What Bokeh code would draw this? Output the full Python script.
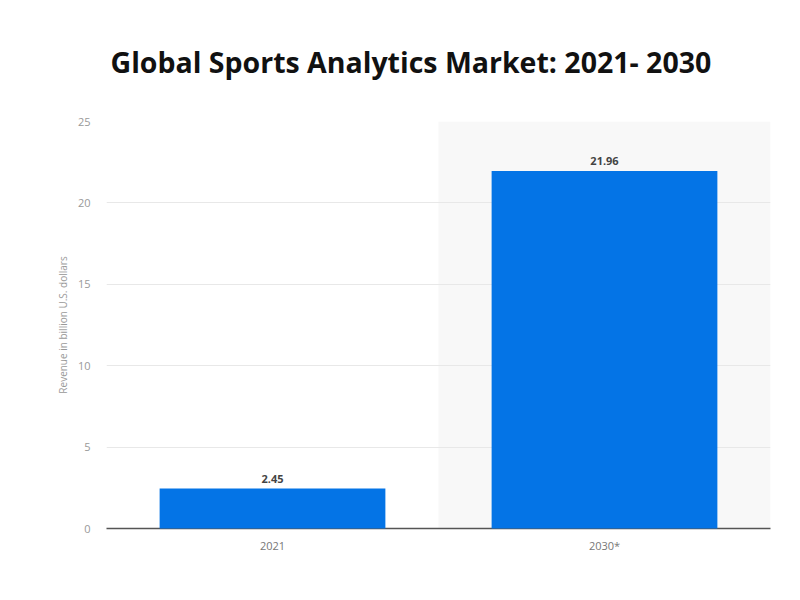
from bokeh.plotting import figure
from bokeh.models import ColumnDataSource, LabelSet, Range1d, FixedTicker
from bokeh.core.properties import value
from bokeh.embed import file_html
from bokeh.resources import INLINE

years = ["2021", "2030*"]
revenue = [2.45, 21.96]
labels = ["2.45", "21.96"]
shade_cats = ["2030*"]
y_ticks = [0, 5, 10, 15, 20, 25]
y_max = 25

src = ColumnDataSource(dict(x=years, top=revenue, label=labels))

p = figure(x_range=years, y_range=Range1d(0, y_max), width=784, height=584,
           output_backend="svg", toolbar_location=None,
           title="Global Sports Analytics Market: 2021- 2030",
           min_border_left=106, min_border_right=14, min_border_top=121, min_border_bottom=56)
p.outline_line_color = None
p.background_fill_color = "white"
p.border_fill_color = "white"

p.title.align = "left"
p.title.offset = 4
p.title.text_font = "Open Sans"
p.title.text_font_style = "bold"
p.title.text_font_size = "28.5px"
p.title.text_color = "#111111"
p.title.standoff = 81

# shaded forecast column
shade = p.vbar(x=shade_cats, top=[y_max], width=1.0, fill_color="#f8f8f8", line_color=None)
shade.level = "underlay"

p.ygrid.level = "glyph"
p.ygrid.grid_line_color = "#e8e8e8"
p.ygrid.grid_line_width = 1
p.xgrid.grid_line_color = None

bars = p.vbar(x="x", top="top", width=0.68, source=src, fill_color="#0474e6", line_color=None)
bars.level = "annotation"

p.add_layout(LabelSet(x="x", y="top", text="label", source=src, text_align="center",
                      text_baseline="bottom", y_offset=6, text_font=value("Open Sans"),
                      text_font_size="11px", text_font_style="bold", text_color="#444444"))

p.yaxis.ticker = FixedTicker(ticks=y_ticks)
p.yaxis.axis_line_color = None
p.yaxis.major_tick_line_color = None
p.yaxis.minor_tick_line_color = None
p.yaxis.major_label_text_font = "Open Sans"
p.yaxis.major_label_text_font_size = "11px"
p.yaxis.major_label_text_color = "#999999"
p.yaxis.major_label_standoff = 10
p.yaxis.axis_label = "Revenue in billion U.S. dollars"
p.yaxis.axis_label_text_font = "Open Sans"
p.yaxis.axis_label_text_font_size = "10px"
p.yaxis.axis_label_text_font_style = "normal"
p.yaxis.axis_label_text_color = "#999999"
p.yaxis.axis_label_standoff = 5

p.xaxis.axis_line_color = "#555555"
p.xaxis.axis_line_width = 1.5
p.xaxis.major_tick_line_color = None
p.xaxis.minor_tick_line_color = None
p.xaxis.major_label_text_font = "Open Sans"
p.xaxis.major_label_text_font_size = "11px"
p.xaxis.major_label_text_color = "#777777"
p.xaxis.major_label_standoff = 3

open("out.html", "w").write(file_html(p, INLINE))
